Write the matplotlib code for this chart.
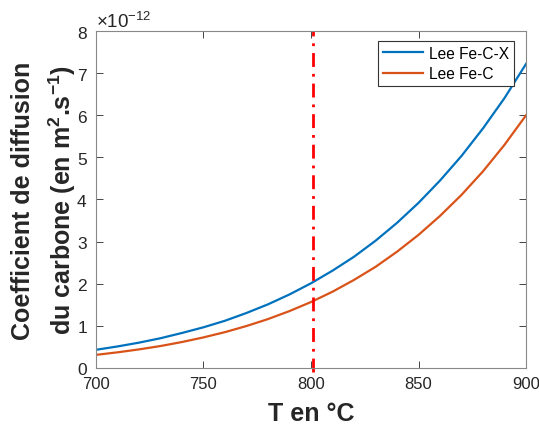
import matplotlib
matplotlib.use('Agg')
import matplotlib.pyplot as plt
from matplotlib.ticker import ScalarFormatter

plt.rcParams['font.family'] = ['Liberation Sans', 'DejaVu Sans']
plt.rcParams['mathtext.fontset'] = 'custom'
plt.rcParams['mathtext.rm'] = 'Liberation Sans'
plt.rcParams['mathtext.bf'] = 'Liberation Sans:bold'

# temperature (degC) and diffusion coefficients (x 1e-12 m2/s)
temp = [700, 710, 720, 730, 740, 750, 760, 770, 780, 790, 800,
        810, 820, 830, 840, 850, 860, 870, 880, 890, 900]
d_fecx = [0.43, 0.51, 0.60, 0.705, 0.83, 0.965, 1.12, 1.305, 1.51, 1.745, 2.01,
          2.31, 2.64, 3.02, 3.445, 3.92, 4.45, 5.035, 5.69, 6.41, 7.22]
d_fec = [0.31, 0.37, 0.44, 0.52, 0.615, 0.725, 0.85, 0.995, 1.16, 1.35, 1.565,
         1.81, 2.09, 2.40, 2.76, 3.16, 3.61, 4.11, 4.67, 5.30, 6.00]
t_marker = 801

scale = 1e-12
blue = '#0072BD'
orange = '#D95319'
grey = '#262626'

fig = plt.figure(figsize=(5.39, 4.27), dpi=100)
ax = fig.add_axes([0.178, 0.136, 0.798, 0.789])

ax.plot(temp, [v * scale for v in d_fecx], color=blue, lw=1.6, label='Lee Fe-C-X')
ax.plot(temp, [v * scale for v in d_fec], color=orange, lw=1.6, label='Lee Fe-C')
ax.axvline(t_marker, ymin=-0.012, ymax=1, clip_on=False, color='red', lw=2,
           linestyle=(0, (5, 2.5, 1, 2.5)))

ax.set_xlim(700, 900)
ax.set_ylim(0, 8e-12)
ax.set_xticks([700, 750, 800, 850, 900])
ax.set_yticks([i * scale for i in range(9)])

fmt = ScalarFormatter(useMathText=True)
fmt.set_powerlimits((0, 0))
ax.yaxis.set_major_formatter(fmt)
ax.yaxis.get_offset_text().set_fontsize(13.5)
ax.yaxis.get_offset_text().set_color(grey)

ax.tick_params(direction='in', top=True, right=True, length=5, width=0.6,
               labelsize=12.5, colors=grey, pad=6)
ax.tick_params(axis='x', labelsize=12)
for sp in ax.spines.values():
    sp.set_color('#888888')
    sp.set_linewidth(0.8)

ax.set_xlabel('T en °C', fontsize=18, fontweight='bold', color=grey, labelpad=7)
ax.set_ylabel('Coefficient de diffusion\ndu carbone (en m$^{\\mathbf{2}}$.s$^{\\mathbf{-1}}$)',
              fontsize=18, fontweight='bold', color=grey, labelpad=-1,
              linespacing=1.45)

leg = ax.legend(loc='upper right', bbox_to_anchor=(0.972, 0.970),
                fontsize=11.2, fancybox=False, framealpha=1,
                edgecolor='#333333', handlelength=2.6, borderaxespad=0,
                borderpad=0.3, labelspacing=0.35, handletextpad=0.4)
leg.get_frame().set_linewidth(0.8)

fig.savefig('out.png', dpi=100)
